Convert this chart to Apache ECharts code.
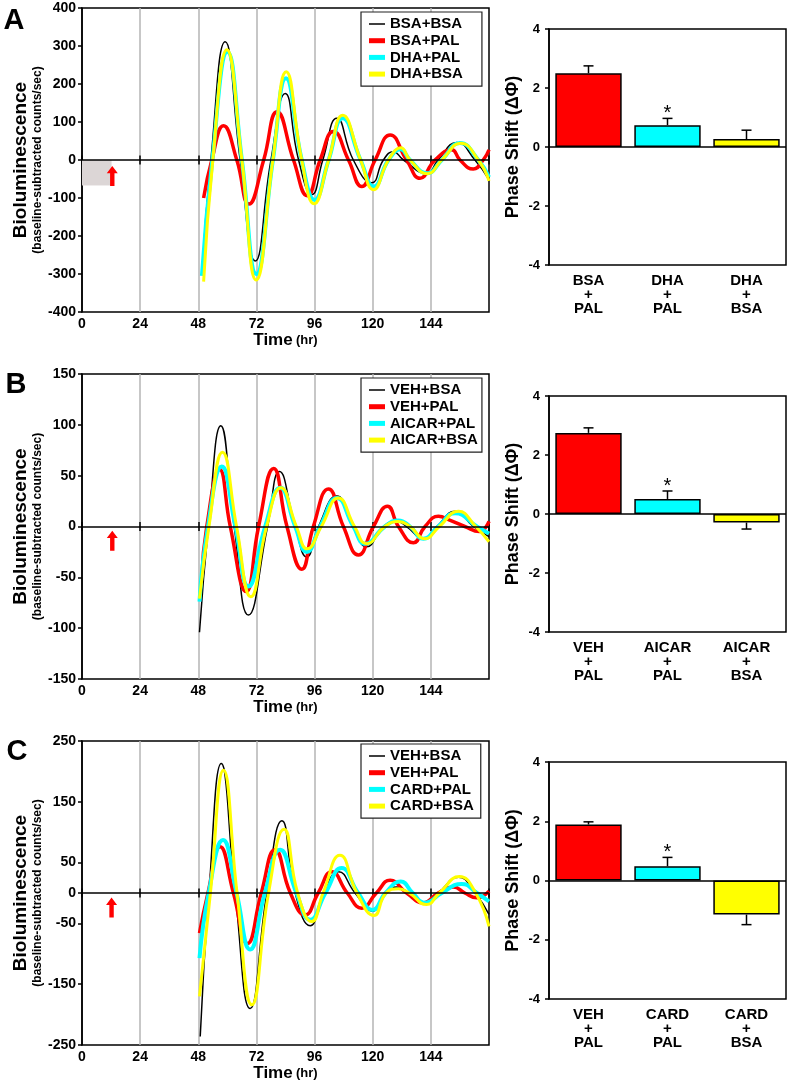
<!DOCTYPE html>
<html>
<head>
<meta charset="utf-8">
<script src="https://cdn.jsdelivr.net/npm/echarts@6/dist/echarts.min.js"></script>
<style>
html, body { margin: 0; padding: 0; background: #fff; }
#main { width: 790px; height: 1080px; }
</style>
</head>
<body>
<div id="main"></div>
<script>
// ---- panel A traces, [hour, counts/sec] ----
var aBsaBsa = [[49.5,-300],[53.2,0],[59.1,311],[65.3,0],[71.5,-266],[78,0],[83.9,175],[89.4,0],[94.9,-91],[99.4,0],[105.2,110],[112,0],[119.6,-60],[124.4,0],[128.5,22],[132.7,0],[142.3,-35],[147,0],[154.7,46],[162.2,0],[168,-52]];
var aBsaPal = [[50.2,-100],[53.6,0],[58.4,90],[63.9,0],[68.9,-116],[75,0],[80.5,127],[87.3,0],[93,-94],[98.3,0],[103.8,75],[110,0],[115.5,-70],[121,0],[127.2,66],[134,0],[139.5,-48],[145.7,0],[152.6,27],[156,0],[161.5,-24],[165.6,0],[168,27]];
var aDhaPal = [[49.5,-305],[53.8,0],[60,285],[66,0],[72,-300],[78.8,0],[84.2,215],[90.7,0],[96,-105],[101.8,0],[107.6,110],[115,0],[120.5,-70],[126.5,0],[131.5,28],[135.4,0],[142.5,-35],[148.5,0],[156,45],[163.6,0],[168,-45]];
var aDhaBsa = [[50.2,-320],[54,0],[59.8,290],[66,0],[71.9,-316],[78.8,0],[84.3,232],[90.7,0],[95.8,-115],[101.8,0],[107.6,118],[115,0],[120.3,-78],[126.5,0],[131.6,32],[135.4,0],[142.6,-36],[148.5,0],[156.3,44],[163.6,0],[168,-55]];

// ---- panel B traces ----
var bVehBsa = [[48.5,-104],[52.2,0],[57.3,99],[62.8,0],[68.7,-87],[76.6,0],[81.5,54],[88,0],[92.8,-30],[97.6,0],[105.2,30],[112,0],[117.5,-20],[124.4,0],[129.9,5],[134,0],[140.9,-12],[146.4,0],[154,15],[161.5,0],[168,-10]];
var bVehPal = [[49.5,-50],[51.5,0],[56.8,56],[61.2,0],[67.8,-64],[72.9,0],[79.1,57],[84.6,0],[90.7,-42],[95.5,0],[101.7,37],[107.9,0],[114.1,-28],[120.3,0],[126.1,20],[130.6,0],[136.8,-16],[141.6,0],[147.1,10],[152,6],[158,0],[164,-5],[168,5]];
var bAicarPal = [[48.5,-74],[52,0],[57.7,59],[63.3,0],[68.7,-59],[75.6,0],[81.9,38],[88,0],[92.8,-25],[98.3,0],[105.2,28],[112,0],[116.9,-17],[125,0],[130.6,6],[135.4,0],[140.9,-12],[147,0],[154,13],[163,0],[168,-7]];
var bAicarBsa = [[48.5,-71],[52.4,0],[58,73],[63.8,0],[69.7,-69],[76.2,0],[82.1,38],[88.5,0],[93,-22],[98.8,0],[105.8,28],[112.5,0],[117.5,-17],[125,0],[130.6,5],[135.4,0],[141.5,-12],[147.5,0],[155.4,15],[162.5,0],[168,-15]];

// ---- panel C traces ----
var cVehBsa = [[48.8,-236],[52.4,0],[57.5,213],[63.2,0],[69.4,-190],[76.3,0],[82.5,119],[88,0],[94.2,-54],[99.7,0],[105.9,35],[112.7,0],[120,-30],[125,0],[130,10],[134.7,0],[141.5,-17],[147,0],[155.4,26],[162.2,0],[168,-35]];
var cVehPal = [[48.5,-66],[52,0],[57,76],[62.5,0],[68.3,-83],[74,0],[79.7,71],[86,0],[92.1,-36],[97.5,0],[103.1,35],[109.5,0],[115.5,-25],[121.5,0],[127.2,21],[134,0],[140.9,-16],[147,0],[153.3,10],[158,0],[163,-8],[168,3]];
var cCardPal = [[48.5,-107],[52.3,0],[58.2,87],[63.8,0],[69.4,-93],[75.5,0],[81.8,71],[88.5,0],[94.2,-44],[100.5,0],[107.2,41],[114,0],[120,-28],[125.3,0],[131.6,19],[136.5,0],[141.5,-16],[148.5,0],[156.7,15],[163,0],[168,-14]];
var cCardBsa = [[48.5,-170],[53,0],[58.4,202],[64,0],[70.1,-184],[77,0],[83.4,105],[89,0],[94.9,-47],[99.5,0],[106.5,62],[113.5,0],[120.5,-37],[125.5,0],[130.6,7],[135,0],[142.2,-19],[147.5,0],[155.8,27],[162.5,0],[168,-55]];

// legend names per panel
var namesA = ['BSA+BSA', 'BSA+PAL', 'DHA+PAL', 'DHA+BSA'];
var namesB = ['VEH+BSA', 'VEH+PAL', 'AICAR+PAL', 'AICAR+BSA'];
var namesC = ['VEH+BSA', 'VEH+PAL', 'CARD+PAL', 'CARD+BSA'];

// y axis ranges [min, max, step]
var yRangeA = [-400, 400, 100];
var yRangeB = [-150, 150, 50];
var yRangeC = [-250, 250, 50];
var yLabelsC = [-250, -150, -50, 0, 50, 150, 250];

// treatment marker (arrow centre) and pre-treatment shading
var arrowA = [12.5, -42];
var arrowB = [12.5, -14];
var arrowC = [12.2, -24];
var shadeA = [[0, 0], [12.2, -67]];

// ---- phase shift bars ----
var barCatsA = ['BSA\n+\nPAL', 'DHA\n+\nPAL', 'DHA\n+\nBSA'];
var barMeanA = [2.5, 0.74, 0.27];
var barErrA = [2.75, 0.97, 0.57];
var barStarA = [0, 1, 0];

var barCatsB = ['VEH\n+\nPAL', 'AICAR\n+\nPAL', 'AICAR\n+\nBSA'];
var barMeanB = [2.75, 0.51, -0.29];
var barErrB = [2.92, 0.78, -0.51];
var barStarB = [0, 1, 0];

var barCatsC = ['VEH\n+\nPAL', 'CARD\n+\nPAL', 'CARD\n+\nBSA'];
var barMeanC = [1.89, 0.48, -1.15];
var barErrC = [1.98, 0.78, -1.49];
var barStarC = [0, 1, 0];

var barColors = ['#ff0000', '#00ffff', '#ffff00'];

var FONT = 'Liberation Sans';
var chart = echarts.init(document.getElementById('main'));

var lineGrids = [
    {left: 82, top: 8, width: 407, height: 304},
    {left: 82, top: 374, width: 407, height: 305},
    {left: 82, top: 741, width: 407, height: 304}
];
var barGrids = [
    {left: 549, top: 29, width: 237, height: 236},
    {left: 549, top: 396, width: 237, height: 236},
    {left: 549, top: 762, width: 237, height: 237}
];

var grids = [];
lineGrids.concat(barGrids).forEach(function (g) {
    grids.push({
        left: g.left, top: g.top, width: g.width, height: g.height,
        show: true, borderColor: '#000', borderWidth: 1.5,
        backgroundColor: 'transparent', outerBoundsMode: 'none'
    });
});

var xAxes = [];
var yAxes = [];

// line panels: bottom axis with labels + a tick-only axis moved onto y=0
lineGrids.forEach(function (g, i) {
    xAxes.push({
        type: 'value', gridIndex: i, min: 0, max: 168, interval: 24,
        position: 'bottom',
        axisLine: {show: false, onZero: false},
        axisTick: {show: false},
        axisLabel: {
            showMaxLabel: false, margin: 5,
            fontFamily: FONT, fontSize: 14, fontWeight: 'bold', color: '#000'
        },
        splitLine: {show: true, showMinLine: false, showMaxLine: false, lineStyle: {color: '#b4b4b4', width: 1.5}},
        name: '{a|Time} {b|(hr)}', nameLocation: 'middle', nameGap: 19,
        nameTextStyle: {
            rich: {
                a: {fontFamily: FONT, fontSize: 17, fontWeight: 'bold', color: '#000'},
                b: {fontFamily: FONT, fontSize: 13, fontWeight: 'bold', color: '#000'}
            }
        }
    });
    xAxes.push({
        type: 'value', gridIndex: i, min: 0, max: 168, interval: 24,
        position: 'top', offset: -(g.height / 2) + 4.5,
        axisLine: {show: false, onZero: false},
        axisTick: {show: true, inside: true, length: 9, lineStyle: {color: '#000', width: 1.5}},
        axisLabel: {show: false},
        splitLine: {show: false}
    });
});

var yRanges = [yRangeA, yRangeB, yRangeC];
yRanges.forEach(function (r, i) {
    var ax = {
        type: 'value', gridIndex: i, min: r[0], max: r[1], interval: r[2],
        axisLine: {show: true, onZero: false, lineStyle: {color: '#000', width: 1.5}},
        axisTick: {show: true, length: 4, lineStyle: {color: '#000', width: 1.5}},
        axisLabel: {margin: 6, fontFamily: FONT, fontSize: 14, fontWeight: 'bold', color: '#000'},
        splitLine: {show: false},
        name: '{a|Bioluminescence}\n{b|(baseline-subtracted counts/sec)}',
        nameLocation: 'middle', nameRotate: 90, nameGap: 37, nameMoveOverlap: false,
        nameTextStyle: {
            align: 'center',
            rich: {
                a: {fontFamily: FONT, fontSize: 19, fontWeight: 'bold', color: '#000', lineHeight: 21, align: 'center'},
                b: {fontFamily: FONT, fontSize: 12, fontWeight: 'bold', color: '#000', lineHeight: 14, align: 'center'}
            }
        }
    };
    if (i === 2) {
        ax.axisLabel.customValues = yLabelsC;
        ax.axisTick.customValues = yLabelsC;
    }
    yAxes.push(ax);
});

// bar panels
var barCats = [barCatsA, barCatsB, barCatsC];
barCats.forEach(function (cats, i) {
    xAxes.push({
        type: 'category', gridIndex: 3 + i, data: cats,
        axisLine: {show: false, onZero: false},
        axisTick: {show: false},
        axisLabel: {
            margin: 9, fontFamily: FONT, fontSize: 15, fontWeight: 'bold',
            color: '#000', lineHeight: 14
        }
    });
    yAxes.push({
        type: 'value', gridIndex: 3 + i, min: -4, max: 4, interval: 2,
        axisLine: {show: true, onZero: false, lineStyle: {color: '#000', width: 1.5}},
        axisTick: {show: true, length: 4, lineStyle: {color: '#000', width: 1.5}},
        axisLabel: {margin: 9, fontFamily: FONT, fontSize: 13, fontWeight: 'bold', color: '#000'},
        splitLine: {show: false},
        name: 'Phase Shift (ΔΦ)', nameLocation: 'middle', nameRotate: 90, nameGap: 27,
        nameMoveOverlap: false,
        nameTextStyle: {fontFamily: FONT, fontSize: 18, fontWeight: 'bold', color: '#000'}
    });
});

var traceColors = ['#000000', '#ff0000', '#00ffff', '#ffff00'];
var traceWidths = [1.5, 3.5, 4, 3];
var arrowPath = 'path://M5,0L10,7L7,7L7,19L3,19L3,7L0,7Z';

var panels = [
    {names: namesA, data: [aBsaBsa, aBsaPal, aDhaPal, aDhaBsa], arrow: arrowA, shade: shadeA},
    {names: namesB, data: [bVehBsa, bVehPal, bAicarPal, bAicarBsa], arrow: arrowB},
    {names: namesC, data: [cVehBsa, cVehPal, cCardPal, cCardBsa], arrow: arrowC}
];

var series = [];
panels.forEach(function (p, g) {
    p.data.forEach(function (d, k) {
        var s = {
            name: p.names[k], type: 'line',
            xAxisIndex: g * 2, yAxisIndex: g,
            data: d, smooth: 0.5, symbol: 'none',
            lineStyle: {color: traceColors[k], width: traceWidths[k]},
            itemStyle: {color: traceColors[k]},
            silent: true
        };
        if (k === 0) {
            s.markPoint = {
                silent: true, symbol: arrowPath, symbolSize: [11, 20],
                itemStyle: {color: '#ff0000'}, label: {show: false},
                data: [{coord: p.arrow}]
            };
            if (p.shade) {
                s.markArea = {
                    silent: true, itemStyle: {color: '#dcd6d6'},
                    data: [[{coord: p.shade[0]}, {coord: p.shade[1]}]]
                };
            }
        }
        if (k === 3) {
            s.markLine = {
                silent: true, symbol: 'none', z: 10,
                lineStyle: {color: '#000', width: 1.5, type: 'solid'},
                label: {show: false},
                data: [{yAxis: 0}]
            };
        }
        series.push(s);
    });
});

var barMeans = [barMeanA, barMeanB, barMeanC];
var barErrs = [barErrA, barErrB, barErrC];
var barStars = [barStarA, barStarB, barStarC];

barMeans.forEach(function (means, i) {
    series.push({
        name: 'bar' + i, type: 'bar', xAxisIndex: 6 + i, yAxisIndex: 3 + i,
        barWidth: '84%', silent: true,
        data: means.map(function (v, j) {
            return {value: v, itemStyle: {color: barColors[j], borderColor: '#000', borderWidth: 1.5}};
        }),
        markLine: {
            silent: true, symbol: 'none',
            lineStyle: {color: '#000', width: 1.5, type: 'solid'},
            label: {show: false},
            data: [{yAxis: 0}]
        }
    });
    series.push({
        name: 'err' + i, type: 'custom', xAxisIndex: 6 + i, yAxisIndex: 3 + i,
        silent: true, z: 3,
        data: means.map(function (v, j) { return [j, v, barErrs[i][j], barStars[i][j]]; }),
        renderItem: function (params, api) {
            var p0 = api.coord([api.value(0), api.value(1)]);
            var p1 = api.coord([api.value(0), api.value(2)]);
            var kids = [
                {type: 'line', shape: {x1: p0[0], y1: p0[1], x2: p1[0], y2: p1[1]}, style: {stroke: '#000', lineWidth: 1.5}},
                {type: 'line', shape: {x1: p1[0] - 5, y1: p1[1], x2: p1[0] + 5, y2: p1[1]}, style: {stroke: '#000', lineWidth: 1.5}}
            ];
            if (api.value(3)) {
                kids.push({
                    type: 'text',
                    style: {
                        text: '*', x: p1[0], y: p1[1] - 5,
                        align: 'center', verticalAlign: 'middle',
                        font: '20px "' + FONT + '"', fill: '#000'
                    }
                });
            }
            return {type: 'group', children: kids};
        }
    });
});

var THIN = 'path://M0,0h16v0.02h-16zM0,1.6h16v1.4h-16zM0,4.58h16v0.02h-16z';
function legendItems(names) {
    return names.map(function (n, i) {
        return i === 0 ? {name: n, icon: THIN} : {name: n};
    });
}
function legendBox(names, top, padRight) {
    return {
        data: legendItems(names), orient: 'vertical', left: 361, top: top,
        icon: 'rect', itemWidth: 16, itemHeight: 5, itemGap: 1.7,
        padding: [4.5, padRight, 4.5, 8],
        borderColor: '#222', borderWidth: 1.2, backgroundColor: '#fff',
        selectedMode: false,
        textStyle: {fontFamily: FONT, fontSize: 15, fontWeight: 'bold', color: '#000', lineHeight: 15}
    };
}

var letters = [['A', 14, 21], ['B', 16, 385], ['C', 17, 752]];

var option = {
    animation: false,
    backgroundColor: '#fff',
    textStyle: {fontFamily: FONT},
    grid: grids,
    xAxis: xAxes,
    yAxis: yAxes,
    legend: [
        legendBox(namesA, 12, 19),
        legendBox(namesB, 378, 4),
        legendBox(namesC, 744, 7)
    ],
    graphic: letters.map(function (l) {
        return {
            type: 'text', x: l[1], y: l[2],
            style: {text: l[0], font: 'bold 29px "' + FONT + '"', fill: '#000', align: 'center', verticalAlign: 'middle'}
        };
    }),
    series: series
};

chart.setOption(option);

window.addEventListener('resize', function () {
    chart.resize();
});
</script>
</body>
</html>
